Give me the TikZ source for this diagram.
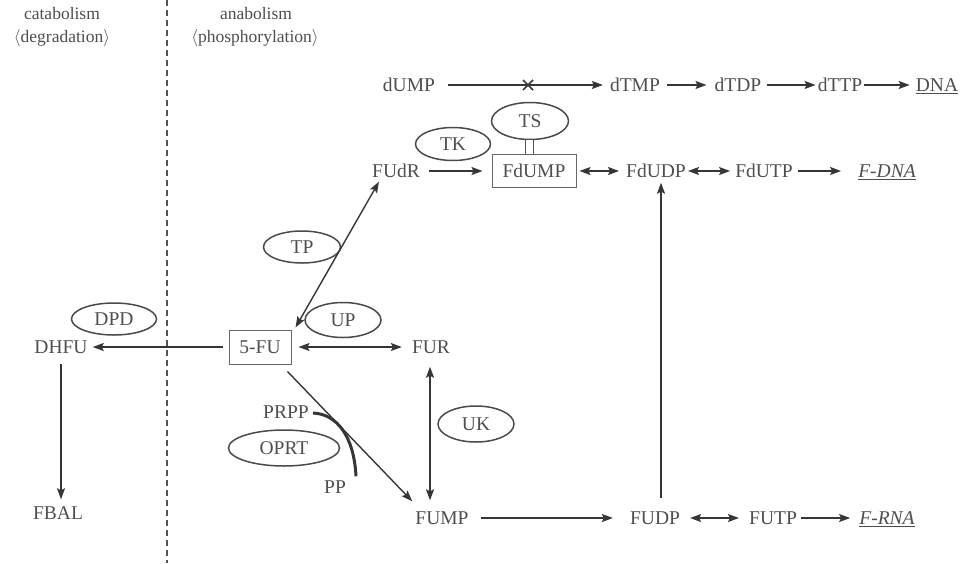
\documentclass[tikz,border=0pt]{standalone}
\usepackage{fontspec}
\setmainfont{Liberation Serif}
\usetikzlibrary{arrows.meta,shapes.geometric,calc}
\definecolor{txt}{HTML}{4E4E4E}
\definecolor{ln}{HTML}{363636}
\begin{document}
\begin{tikzpicture}[x=1pt,y=-1pt,
  lbl/.style={text=txt,font=\fontsize{19.5}{22}\selectfont,inner sep=1pt,text height=13pt,text depth=0pt},
  hdr/.style={text=txt,font=\fontsize{17.5}{20}\selectfont,inner sep=1pt},
  enz/.style={ellipse,draw=ln!90,line width=1.5pt,text=txt,font=\fontsize{19.5}{22}\selectfont,inner sep=0pt},
  boxed/.style={draw=ln!75,line width=1pt,text=txt,font=\fontsize{19.5}{22}\selectfont,inner sep=0pt},
  conn/.style={draw=ln,line width=1.4pt},
  arr/.style={conn,-{Stealth[length=11pt,width=8pt,inset=2pt]}},
  darr/.style={conn,{Stealth[length=11pt,width=8pt,inset=2pt]}-{Stealth[length=11pt,width=8pt,inset=2pt]}},
]
\path[use as bounding box] (0,0) rectangle (961,563);

% headers and divider
\node[hdr] (cat) at (62,14) {catabolism};
\node[hdr] (deg) at (62,38) {$\langle$degradation$\rangle$};
\node[hdr] (ana) at (256,14) {anabolism};
\node[hdr] (pho) at (255,38) {$\langle$phosphorylation$\rangle$};
\coordinate (divtop) at (167,0);
\coordinate (divbot) at (167,563);
\draw[ln!85,line width=1.4pt,dash pattern=on 6pt off 4pt] (divtop) -- (divbot);

% row 1
\node[lbl] (dUMP) at (409,85) {dUMP};
\node[lbl] (dTMP) at (635,85) {dTMP};
\node[lbl] (dTDP) at (738,85) {dTDP};
\node[lbl] (dTTP) at (840,85) {dTTP};
\node[lbl] (DNA) at (937,85) {\underline{DNA}};

% row 2
\node[lbl] (FUdR) at (396,171) {FUdR};
\node[boxed,minimum width=84pt,minimum height=33pt] (FdUMP) at (534,171) {FdUMP};
\node[lbl] (FdUDP) at (656,171) {FdUDP};
\node[lbl] (FdUTP) at (764,171) {FdUTP};
\node[lbl] (FDNA) at (887,171) {\underline{\textit{F-DNA}}};

% enzymes
\node[enz,minimum width=77pt,minimum height=37pt] (TS) at (530,121) {TS};
\node[enz,minimum width=75pt,minimum height=33pt] (TK) at (453,144) {TK};
\node[enz,minimum width=77pt,minimum height=32pt] (TP) at (302,247) {TP};
\node[enz,minimum width=76pt,minimum height=35pt] (UP) at (343,320) {UP};
\node[enz,minimum width=85pt,minimum height=32pt] (DPD) at (114,319) {DPD};
\node[enz,minimum width=76pt,minimum height=36pt] (UK) at (476,424) {UK};
\node[enz,minimum width=111pt,minimum height=36pt] (OPRT) at (284,448) {OPRT};

% row 3
\node[lbl] (DHFU) at (61,347) {DHFU};
\node[boxed,minimum width=62pt,minimum height=34pt] (FU) at (260,347) {5-FU};
\node[lbl] (FUR) at (431,347) {FUR};
\node[lbl] (PRPP) at (286,412) {PRPP};
\node[lbl] (PP) at (335,487) {PP};

% row 4
\node[lbl] (FBAL) at (58,513) {FBAL};
\node[lbl] (FUMP) at (442,518) {FUMP};
\node[lbl] (FUDP) at (655,518) {FUDP};
\node[lbl] (FUTP) at (773,518) {FUTP};
\node[lbl] (FRNA) at (887,518) {\underline{\textit{F-RNA}}};

% row 1 connectors
\draw[arr,shorten <=12pt,shorten >=6pt] (dUMP.east) -- (dUMP.east -| dTMP.west);
\draw[arr,shorten <=6pt,shorten >=7pt] (dTMP.east) -- (dTMP.east -| dTDP.west);
\draw[arr,shorten <=4pt,shorten >=1pt] (dTDP.east) -- (dTDP.east -| dTTP.west);
\draw[arr,shorten <=1pt,shorten >=5pt] (dTTP.east) -- (dTTP.east -| DNA.west);
\coordinate (blk) at (528,85);
\draw[ln,line width=1.6pt] ($(blk)+(-5,-5)$) -- ($(blk)+(5,5)$);
\draw[ln,line width=1.6pt] ($(blk)+(-5,5)$) -- ($(blk)+(5,-5)$);

% row 2 connectors
\draw[arr,shorten <=8pt,shorten >=9pt] (FUdR.east) -- (FUdR.east -| FdUMP.west);
\draw[darr,shorten <=3pt,shorten >=6pt] (FdUMP.east) -- (FdUMP.east -| FdUDP.west);
\draw[darr,shorten <=1pt,shorten >=4pt] (FdUDP.east) -- (FdUDP.east -| FdUTP.west);
\draw[arr,shorten <=4pt,shorten >=16pt] (FdUTP.east) -- (FdUTP.east -| FDNA.west);
\draw[ln!85,line width=1pt,double=white,double distance=7pt] ([xshift=-1pt]TS.south) -- ([xshift=-1pt]TS.south |- FdUMP.north);

% row 3 connectors
\draw[arr,shorten <=6pt,shorten >=4pt] (FU.west) -- (FU.west -| DHFU.east);
\draw[darr,shorten <=7pt,shorten >=9pt] (FU.east) -- (FU.east -| FUR.west);
\draw[darr] ($(FU.north east)+(4,-2)$) -- ($(FUdR.south west)+(8,3)$);

% verticals
\draw[arr,shorten <=9pt,shorten >=6pt] (DHFU.south) -- (DHFU.south |- FBAL.north);
\draw[darr,shorten <=12pt,shorten >=10pt] ([xshift=-1pt]FUR.south) -- ([xshift=-1pt]FUR.south |- FUMP.north);
\draw[arr,shorten <=12pt,shorten >=4pt] ([xshift=6pt]FUDP.north) -- ([xshift=6pt]FUDP.north |- FdUDP.south);

% diagonal 5-FU -> FUMP and PRPP/PP curve
\draw[arr] ($(FU.south east)+(-4,7)$) -- ($(FUMP.north west)+(-2,-9)$);
\coordinate (cs) at ($(PRPP.east)+(3,1)$);
\coordinate (ce) at ($(PP.north)+(21,-3)$);
\draw[ln,line width=3pt] (cs) .. controls ($(cs)+(24,1)$) and ($(ce)+(-2,-40)$) .. (ce);

% row 4 connectors
\draw[arr,shorten <=11pt,shorten >=16pt] (FUMP.east) -- (FUMP.east -| FUDP.west);
\draw[darr,shorten <=9pt,shorten >=9pt] (FUDP.east) -- (FUDP.east -| FUTP.west);
\draw[arr,shorten <=3pt,shorten >=8pt] (FUTP.east) -- (FUTP.east -| FRNA.west);
\end{tikzpicture}
\end{document}
